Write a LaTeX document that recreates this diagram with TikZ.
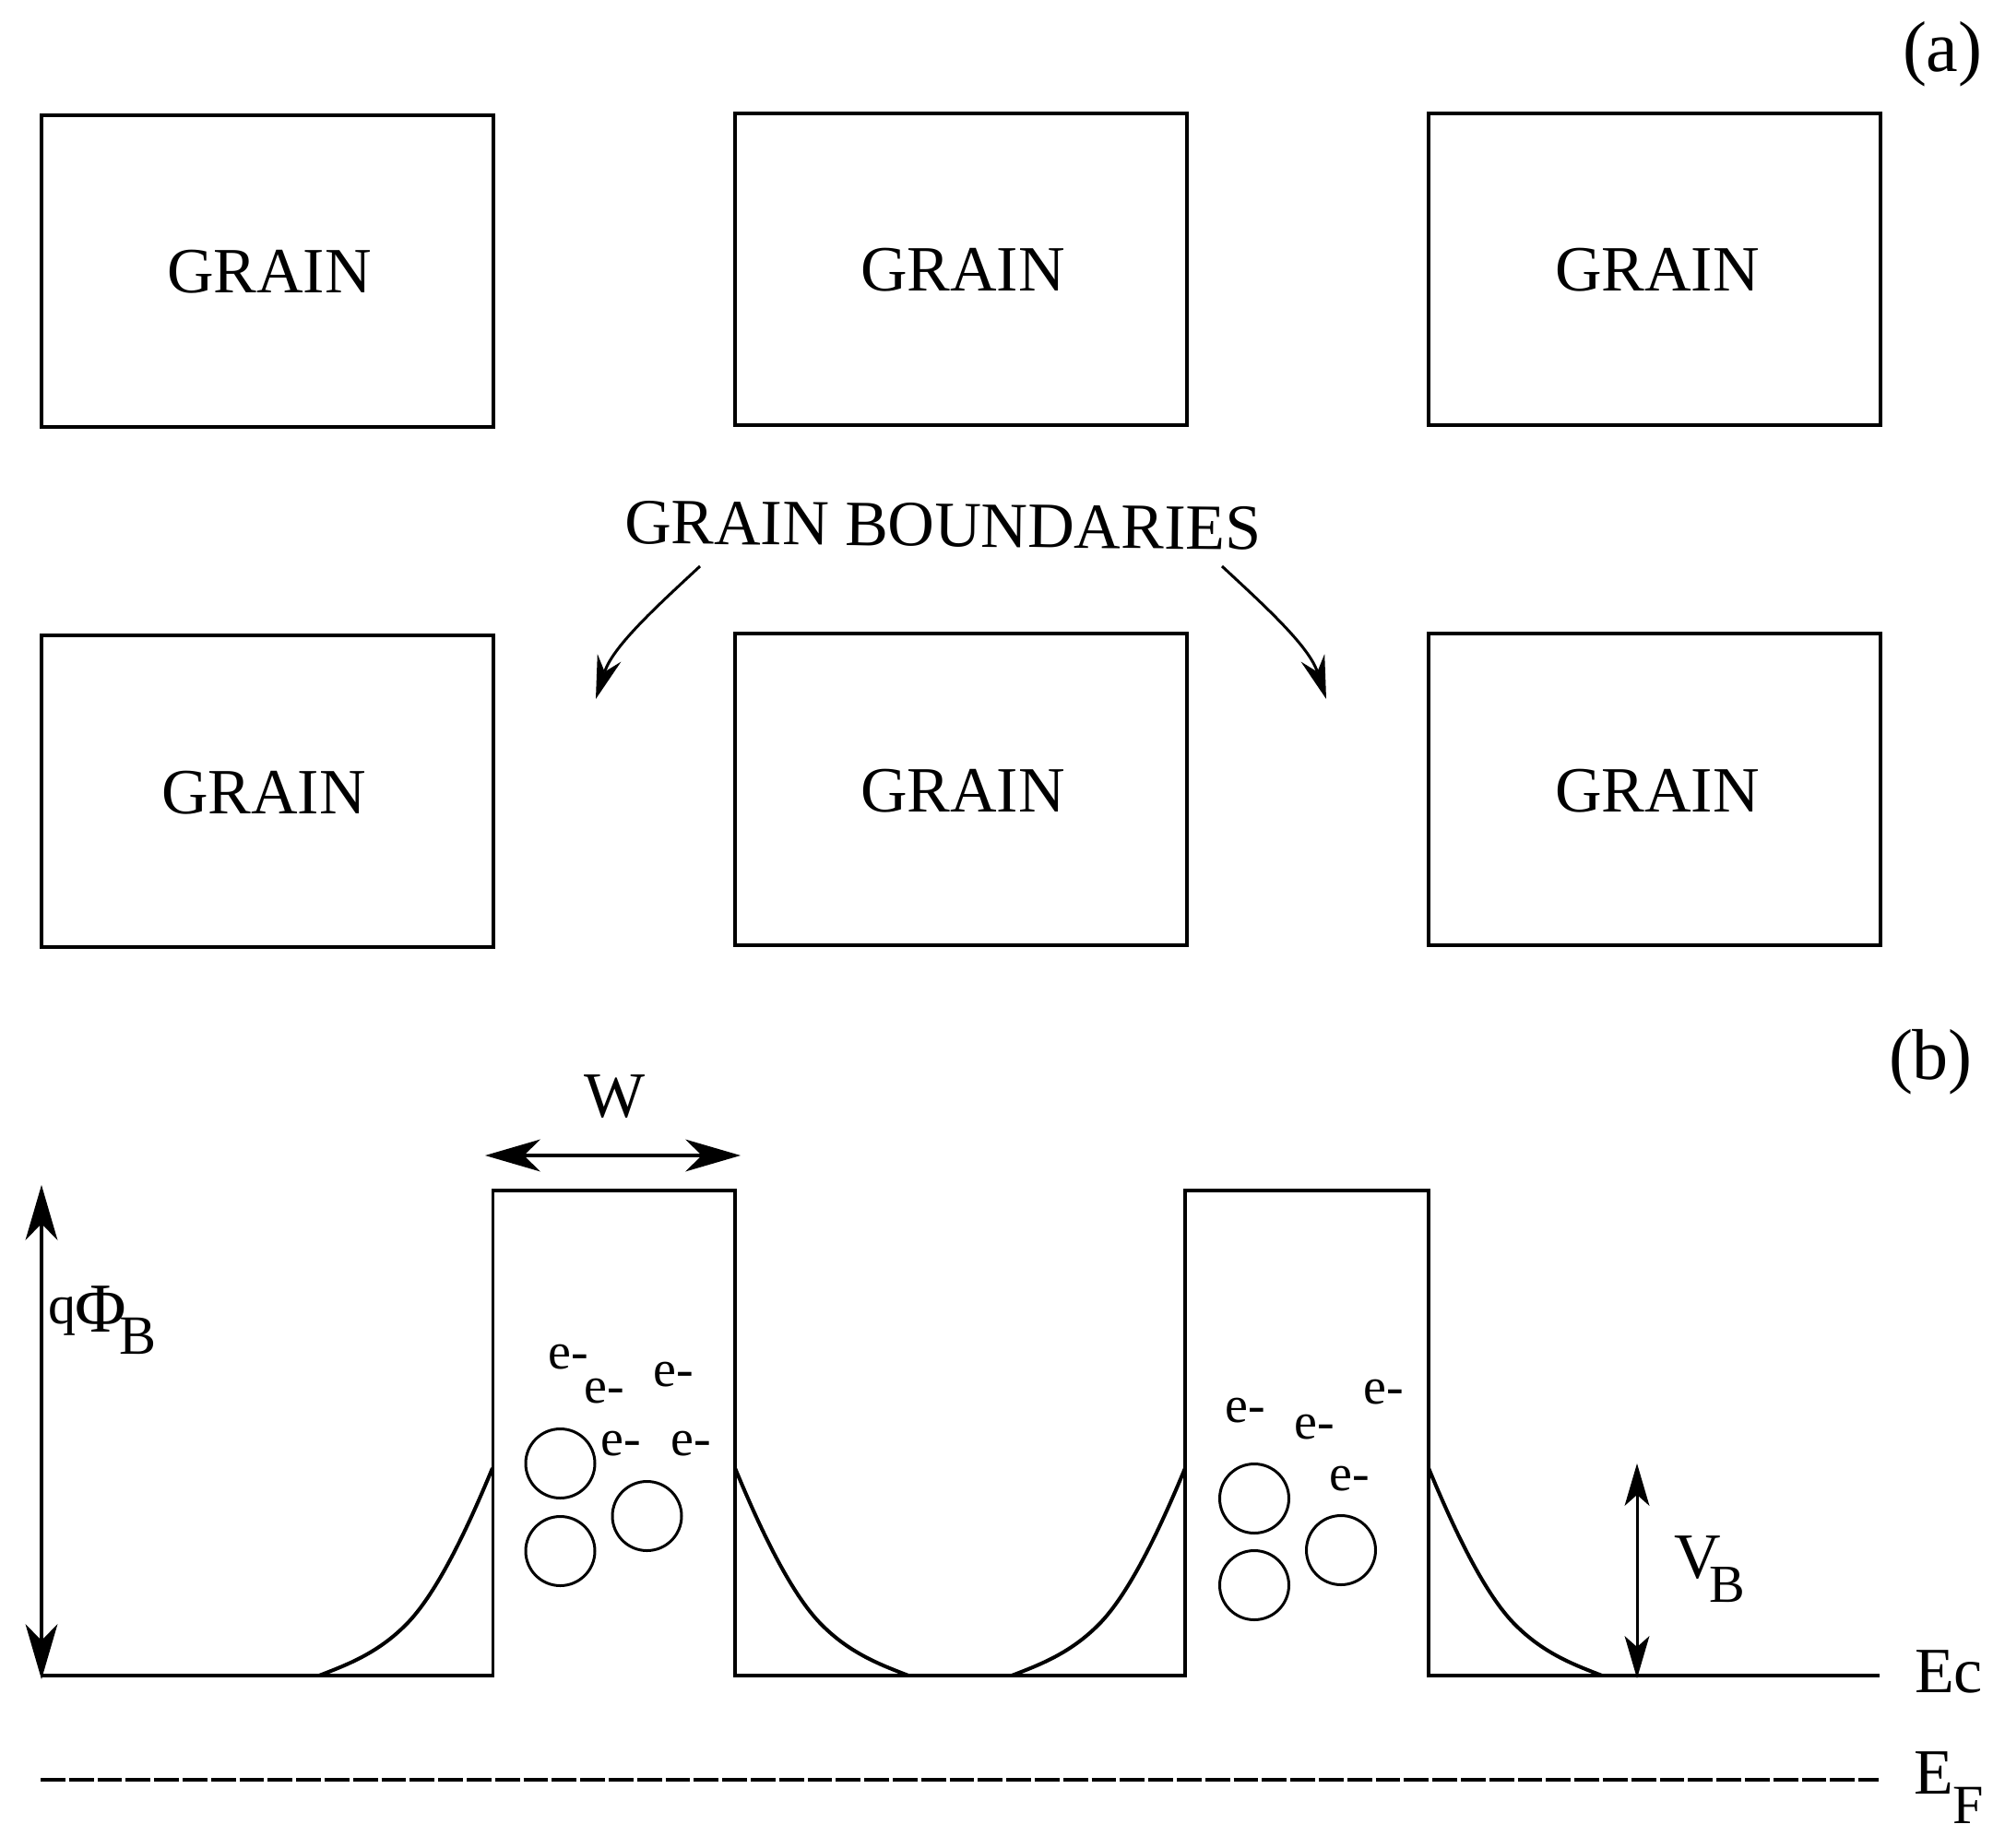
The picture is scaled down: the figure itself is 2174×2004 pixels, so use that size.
\documentclass[tikz,border=0pt]{standalone}
\usepackage{fontspec}
\setmainfont{Liberation Serif}
\usetikzlibrary{arrows.meta}
\newcommand{\bigtext}{\fontsize{70}{84}\selectfont}
\newcommand{\smalltext}{\fontsize{56}{66}\selectfont}
\tikzset{
  x=1pt,y=-1pt,
  grainbox/.style={draw=black,line width=4pt,minimum width=490pt,minimum height=338pt,inner sep=0pt,outer sep=0pt,anchor=north west},
  lab/.style={inner sep=0pt,outer sep=0pt,anchor=base west,font=\bigtext},
  elec/.style={inner sep=0pt,outer sep=0pt,font=\smalltext},
  trap/.style={draw=black,line width=3pt,circle,minimum size=75pt,inner sep=0pt},
  band/.style={draw=black,line width=3.5pt,line join=miter},
  bendcurve/.style={draw=black,line width=4pt},
  dimarrow/.style={draw=black,line width=3.5pt,{Stealth[length=60pt,width=35pt,inset=18pt,line width=0pt]}-{Stealth[length=60pt,width=35pt,inset=18pt,line width=0pt]}},
  vbarrow/.style={draw=black,line width=3pt,{Stealth[length=46pt,width=27pt,inset=12pt,line width=0pt]}-{Stealth[length=46pt,width=27pt,inset=12pt,line width=0pt]}},
  ptr/.style={draw=black,line width=3pt,-{Stealth[length=47pt,width=27pt,inset=16pt,line width=0pt]}},
}
\begin{document}
\begin{tikzpicture}
\useasboundingbox (0,0) rectangle (2174,2004);
% grains
\node[grainbox] (g1) at (44.5,125) {};
\node[grainbox] (g2) at (797,123) {};
\node[grainbox] (g3) at (1549,123) {};
\node[grainbox] (g4) at (44.5,689) {};
\node[grainbox] (g5) at (797,687) {};
\node[grainbox] (g6) at (1549,687) {};
\node[lab] (t1) at (181,317) {GRAIN};
\node[lab] (t2) at (933,315) {GRAIN};
\node[lab] (t3) at (1686,315) {GRAIN};
\node[lab] (t4) at (175,882) {GRAIN};
\node[lab] (t5) at (933,880) {GRAIN};
\node[lab] (t6) at (1686,880) {GRAIN};
\node[lab,rotate=-0.6] (gb) at (677,589) {GRAIN BOUNDARIES};
\coordinate (pl0) at (759,614);
\coordinate (pl1) at (646,758);
\coordinate (pr0) at (1325,614);
\coordinate (pr1) at (1438,758);
\draw[ptr] (pl0) .. controls (715,655) and (665,700) .. (pl1);
\draw[ptr] (pr0) .. controls (1369,655) and (1419,700) .. (pr1);
\node[lab,font=\fontsize{78}{90}\selectfont] (a) at (2063,78) {(a)};
\node[lab,font=\fontsize{78}{90}\selectfont] (b) at (2048,1170) {(b)};
% band diagram
\coordinate (e0) at (44,1817);
\coordinate (w1b) at (534.5,1817);
\coordinate (w1t) at (534.5,1291);
\coordinate (w2t) at (797,1291);
\coordinate (w2b) at (797,1817);
\coordinate (w3b) at (1285,1817);
\coordinate (w3t) at (1285,1291);
\coordinate (w4t) at (1549,1291);
\coordinate (w4b) at (1549,1817);
\coordinate (e1) at (2038,1817);
\draw[band] (e0) -- (w1b) -- (w1t) -- (w2t) -- (w2b) -- (w3b) -- (w3t) -- (w4t) -- (w4b) -- (e1);
\draw[bendcurve] (346,1817) .. controls (377,1805) and (409,1793) .. (440,1762) .. controls (471,1731) and (503,1667) .. (534,1592);
\draw[bendcurve] (797,1592) .. controls (828,1667) and (860,1731) .. (891,1762) .. controls (922,1793) and (954,1805) .. (985,1817);
\draw[bendcurve] (1097,1817) .. controls (1128,1805) and (1160,1793) .. (1191,1762) .. controls (1222,1731) and (1254,1667) .. (1285,1592);
\draw[bendcurve] (1549,1592) .. controls (1580,1667) and (1612,1731) .. (1643,1762) .. controls (1674,1793) and (1706,1805) .. (1737,1817);
\coordinate (ef0) at (44,1930);
\coordinate (ef1) at (2037,1930);
\draw[black,line width=4pt,dash pattern=on 26.8pt off 4pt] (ef0) -- (ef1);
% traps
\node[trap] (c1) at (607.5,1587) {};
\node[trap] (c2) at (607.5,1682) {};
\node[trap] (c3) at (701.5,1644) {};
\node[trap] (c4) at (1360,1625) {};
\node[trap] (c5) at (1360,1719) {};
\node[trap] (c6) at (1454,1681) {};
\node[elec] (e1a) at (616,1472) {e-};
\node[elec] (e2a) at (655,1509) {e-};
\node[elec] (e3a) at (730,1491) {e-};
\node[elec] (e4a) at (673,1566) {e-};
\node[elec] (e5a) at (749,1566) {e-};
\node[elec] (e6a) at (1350,1530) {e-};
\node[elec] (e7a) at (1425,1548) {e-};
\node[elec] (e8a) at (1500,1510) {e-};
\node[elec] (e9a) at (1463,1604) {e-};
% dimensions
\coordinate (wl) at (526,1253);
\coordinate (wr) at (803,1253);
\draw[dimarrow] (wl) -- (wr);
\node[lab] (wt) at (633,1211) {W};
\coordinate (qt) at (45,1285);
\coordinate (qb) at (45,1821);
\draw[dimarrow] (qt) -- (qb);
\node[lab] (qphi) at (52,1444) {\raisebox{9pt}{\fontsize{60}{70}\selectfont q}\kern-1pt\fontsize{76}{88}\selectfont Φ\kern-7pt\raisebox{-24pt}{\fontsize{60}{70}\selectfont B}};
\coordinate (vt) at (1775,1587);
\coordinate (vb) at (1775,1820);
\draw[vbarrow] (vt) -- (vb);
\node[lab] (vbt) at (1815,1711) {V\kern-12pt\raisebox{-26pt}{\fontsize{58}{68}\selectfont B}};
\node[lab] (ec) at (2076,1835) {Ec};
\node[lab] (ef) at (2075,1945) {E\raisebox{-32pt}{\fontsize{60}{70}\selectfont F}};
\end{tikzpicture}
\end{document}
